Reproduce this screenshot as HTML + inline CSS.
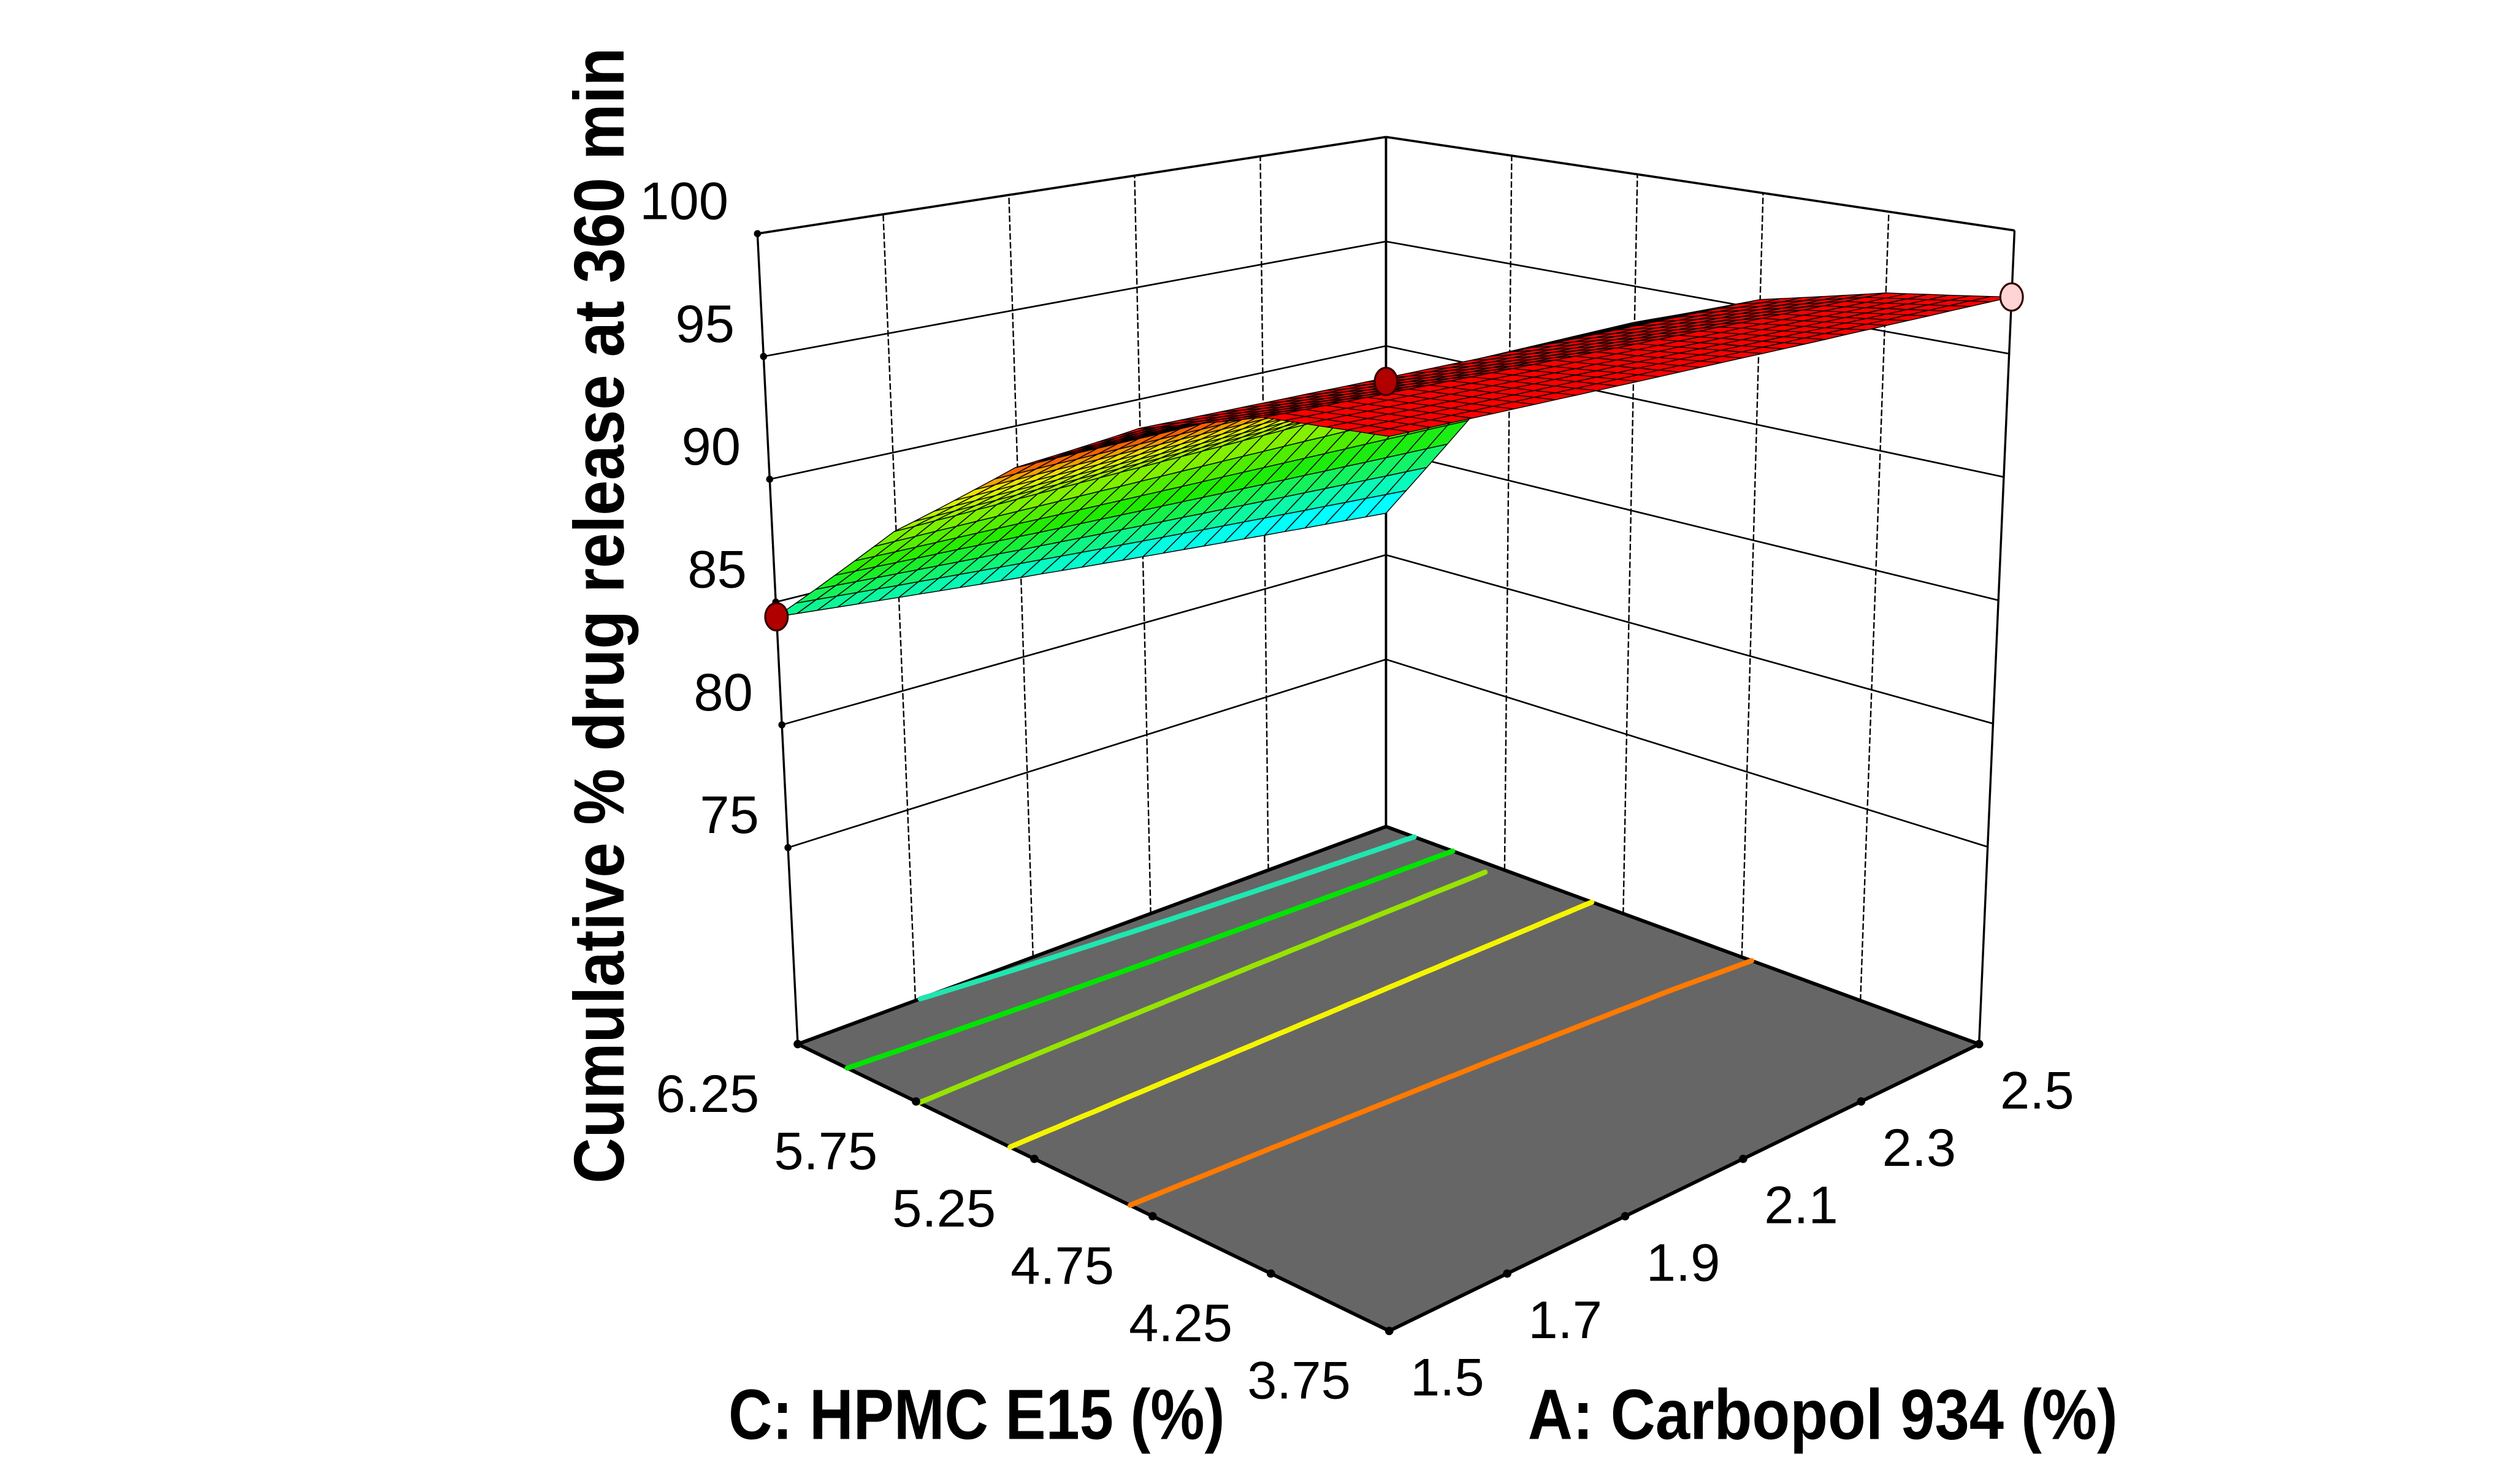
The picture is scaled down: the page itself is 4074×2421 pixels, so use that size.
<!DOCTYPE html>
<html><head><meta charset="utf-8"><title>Response surface</title>
<style>html,body{margin:0;padding:0;background:#fff;}svg{display:block;}</style></head>
<body>
<svg id="chart" xmlns="http://www.w3.org/2000/svg" width="4074" height="2421" viewBox="0 0 1550 921" preserveAspectRatio="none">
<rect x="0" y="0" width="1550" height="921" fill="#fff"/>
<g id="walls"></g>
<g id="floor"></g>
<g id="surface"></g>
<g id="points"></g>
<g id="labels" font-family="'Liberation Sans Narrow','Liberation Sans',sans-serif" font-size="33" fill="#000"></g>
<text x="452" y="893" font-family="'Liberation Sans',sans-serif" font-weight="bold" font-size="44" textLength="308" lengthAdjust="spacingAndGlyphs">C: HPMC E15 (%)</text>
<text x="948" y="893" font-family="'Liberation Sans',sans-serif" font-weight="bold" font-size="44" textLength="366" lengthAdjust="spacingAndGlyphs">A: Carbopol 934 (%)</text>
<text transform="translate(387,382) rotate(-90)" text-anchor="middle" font-family="'Liberation Sans',sans-serif" font-weight="bold" font-size="44" textLength="705" lengthAdjust="spacingAndGlyphs">Cumulative % drug release at 360 min</text>
</svg>
<script>
// ---- data ----
const aTicks = [1.5, 1.7, 1.9, 2.1, 2.3, 2.5];
const cTicks = [3.75, 4.25, 4.75, 5.25, 5.75, 6.25];
const zTicks = [75, 80, 85, 90, 95, 100];
// response grid: rows = C (3.75..6.25), cols = A (1.5..2.5)
const zRow0 = [98.00, 97.86, 97.72, 97.58, 97.44, 97.30];
const zRow1 = [97.58, 97.38, 97.19, 96.99, 96.80, 96.60];
const zRow2 = [96.02, 95.90, 95.77, 95.65, 95.52, 95.40];
const zRow3 = [93.30, 93.32, 93.34, 93.36, 93.38, 93.40];
const zRow4 = [89.42, 89.54, 89.65, 89.77, 89.88, 90.00];
const zRow5 = [84.40, 83.92, 83.44, 82.96, 82.48, 82.00];
const zGrid = [zRow0, zRow1, zRow2, zRow3, zRow4, zRow5];
const contourLevels = [83.9, 86.5, 89.5, 92.5, 95.5];
const contourColors = ['#20e6b0', '#00e400', '#96e400', '#f4f400', '#ff7a00'];
const pointA = [1.5, 2.5, 2.5];
const pointC = [6.25, 6.25, 3.75];
const pointZ = [84.4, 88.3, 97.3];
const pointFill = ['#b00000', '#b00000', '#ffd4d4'];

// ---- projection ----
const NS = 'http://www.w3.org/2000/svg';
const aMin = 1.5, aMax = 2.5, cMin = 3.75, cMax = 6.25, zFloor = 67, zTop = 100;
const FB = {F:[862,826], R:[1228,648], L:[495,648], B:[860,513]};
const TP = {F:[862,235], R:[1250,143], L:[470,145], B:[860,85]};
function bil(P,u,v,k){return P.F[k]*(1-u)*(1-v)+P.R[k]*u*(1-v)+P.L[k]*(1-u)*v+P.B[k]*u*v;}
function proj(a,c,z){
  const u=(a-aMin)/(aMax-aMin), v=(c-cMin)/(cMax-cMin), t=(z-zFloor)/(zTop-zFloor);
  const bx=bil(FB,u,v,0), by=bil(FB,u,v,1), tx=bil(TP,u,v,0), ty=bil(TP,u,v,1);
  return [bx+t*(tx-bx), by+t*(ty-by)];
}
function zAt(a,c){
  const fi=(a-aMin)/(aMax-aMin)*(aTicks.length-1), fj=(c-cMin)/(cMax-cMin)*(cTicks.length-1);
  const i=Math.min(Math.floor(fi),aTicks.length-2), j=Math.min(Math.floor(fj),cTicks.length-2);
  const s=fi-i, t=fj-j;
  return zGrid[j][i]*(1-s)*(1-t)+zGrid[j][i+1]*s*(1-t)+zGrid[j+1][i]*(1-s)*t+zGrid[j+1][i+1]*s*t;
}
function mk(tag,attrs,parent){const e=document.createElementNS(NS,tag);for(const k in attrs)e.setAttribute(k,attrs[k]);parent.appendChild(e);return e;}
function line(p,q,parent,w,dash){return mk('line',{x1:p[0],y1:p[1],x2:q[0],y2:q[1],stroke:'#000','stroke-width':w,'stroke-dasharray':dash||'none'},parent);}

// ---- walls ----
const walls=document.getElementById('walls');
aTicks.forEach(a=>{
  const el=line(proj(a,cMax,zFloor),proj(a,cMax,zTop),walls,(a===aMin||a===aMax)?1.3:0.9,(a===aMin||a===aMax)?'':'4,1.5');
  
  
});
cTicks.forEach(c=>{
  const el=line(proj(aMax,c,zFloor),proj(aMax,c,zTop),walls,(c===cMin||c===cMax)?1.3:0.9,(c===cMin||c===cMax)?'':'4,1.5');
  
  
});
zTicks.forEach(z=>{
  const w=z===zTop?1.4:1.0;
  const e1=line(proj(aMin,cMax,z),proj(aMax,cMax,z),walls,w,'');
  
  
  const e2=line(proj(aMax,cMax,z),proj(aMax,cMin,z),walls,w,'');
  
  
  const p=proj(aMin,cMax,z);
  const tk=mk('circle',{cx:p[0],cy:p[1],r:2.2,fill:'#000'},walls);
  
  
});

// ---- floor ----
const floor=document.getElementById('floor');
const fc=[proj(aMin,cMin,zFloor),proj(aMax,cMin,zFloor),proj(aMax,cMax,zFloor),proj(aMin,cMax,zFloor)];
const fp=mk('polygon',{points:fc.map(p=>p.join(',')).join(' '),fill:'#666666',stroke:'#000','stroke-width':2.2},floor);


const NC=48;
contourLevels.forEach((lev,li)=>{
  let d='';
  for(let i=0;i<NC;i++)for(let j=0;j<NC;j++){
    const a0=aMin+(aMax-aMin)*i/NC,a1=aMin+(aMax-aMin)*(i+1)/NC,c0=cMin+(cMax-cMin)*j/NC,c1=cMin+(cMax-cMin)*(j+1)/NC;
    const cs=[[a0,c0],[a1,c0],[a1,c1],[a0,c1]], zs=cs.map(p=>zAt(p[0],p[1]));
    const pts=[];
    for(let k=0;k<4;k++){
      const k2=(k+1)%4, z1=zs[k], z2=zs[k2];
      if((z1-lev)*(z2-lev)<0){const t=(lev-z1)/(z2-z1);pts.push([cs[k][0]+t*(cs[k2][0]-cs[k][0]),cs[k][1]+t*(cs[k2][1]-cs[k][1])]);}
    }
    if(pts.length>=2){const p=proj(pts[0][0],pts[0][1],zFloor),q=proj(pts[1][0],pts[1][1],zFloor);d+='M'+p[0].toFixed(1)+' '+p[1].toFixed(1)+'L'+q[0].toFixed(1)+' '+q[1].toFixed(1);}
  }
  const el=mk('path',{d:d,stroke:contourColors[li],'stroke-width':3.2,fill:'none','stroke-linecap':'round'},floor);
  
  
});
aTicks.forEach(a=>{const p=proj(a,cMin,zFloor);const t=mk('circle',{cx:p[0],cy:p[1],r:2.6,fill:'#000'},floor);
  
  });
cTicks.forEach(c=>{const p=proj(aMin,c,zFloor);const t=mk('circle',{cx:p[0],cy:p[1],r:2.6,fill:'#000'},floor);
  
  });
const bv=line(proj(aMax,cMax,zFloor),proj(aMax,cMax,zTop),floor,1.4,'');



// ---- surface ----
const surf=document.getElementById('surface');
const NM=30;
const stops=[[83,[0,255,255]],[87,[30,235,0]],[91.5,[235,245,0]],[94,[255,0,0]],[100,[255,0,0]]];
function col(z){
  if(z<=stops[0][0])return 'rgb('+stops[0][1]+')';
  for(let k=0;k<stops.length-1;k++){if(z<=stops[k+1][0]){const t=(z-stops[k][0])/(stops[k+1][0]-stops[k][0]);
    const c=stops[k][1].map((v,m)=>Math.round(v+t*(stops[k+1][1][m]-v)));return 'rgb('+c.join(',')+')';}}
  return 'rgb(255,0,0)';
}
const cells=[];
for(let i=0;i<NM;i++)for(let j=0;j<NM;j++)cells.push([i,j]);
cells.sort((x,y)=>(y[0]+y[1])-(x[0]+x[1]));
cells.forEach(([i,j])=>{
  const a0=aMin+(aMax-aMin)*i/NM,a1=aMin+(aMax-aMin)*(i+1)/NM,c0=cMin+(cMax-cMin)*j/NM,c1=cMin+(cMax-cMin)*(j+1)/NM;
  const cs=[[a0,c0],[a1,c0],[a1,c1],[a0,c1]];
  const zs=cs.map(p=>zAt(p[0],p[1]));
  const pts=cs.map((p,k)=>proj(p[0],p[1],zs[k]));
  const zm=(zs[0]+zs[1]+zs[2]+zs[3])/4;
  const el=mk('polygon',{points:pts.map(p=>p[0].toFixed(1)+','+p[1].toFixed(1)).join(' '),fill:col(zm),stroke:'#000','stroke-width':0.55,'stroke-linejoin':'round'},surf);
  
  
});

// ---- design points ----
const ptsG=document.getElementById('points');
pointA.forEach((a,k)=>{
  const p=proj(a,pointC[k],pointZ[k]);
  const el=mk('ellipse',{cx:p[0],cy:p[1],rx:7,ry:8.5,fill:pointFill[k],stroke:'#300','stroke-width':1.2},ptsG);
  
  
});

// ---- tick labels ----
const lab=document.getElementById('labels');
zTicks.forEach(z=>{const p=proj(aMin,cMax,z);const t=mk('text',{x:p[0]-18,y:p[1]-9,'text-anchor':'end'},lab);t.textContent=String(z);
  
  });
cTicks.forEach(c=>{const p=proj(aMin,c,zFloor);const t=mk('text',{x:p[0]-56,y:p[1]+42,'text-anchor':'middle'},lab);t.textContent=c.toFixed(2);
  
  });
aTicks.forEach(a=>{const p=proj(a,cMin,zFloor);const t=mk('text',{x:p[0]+36,y:p[1]+40,'text-anchor':'middle'},lab);t.textContent=String(a);
  
  });
</script>
</body></html>
